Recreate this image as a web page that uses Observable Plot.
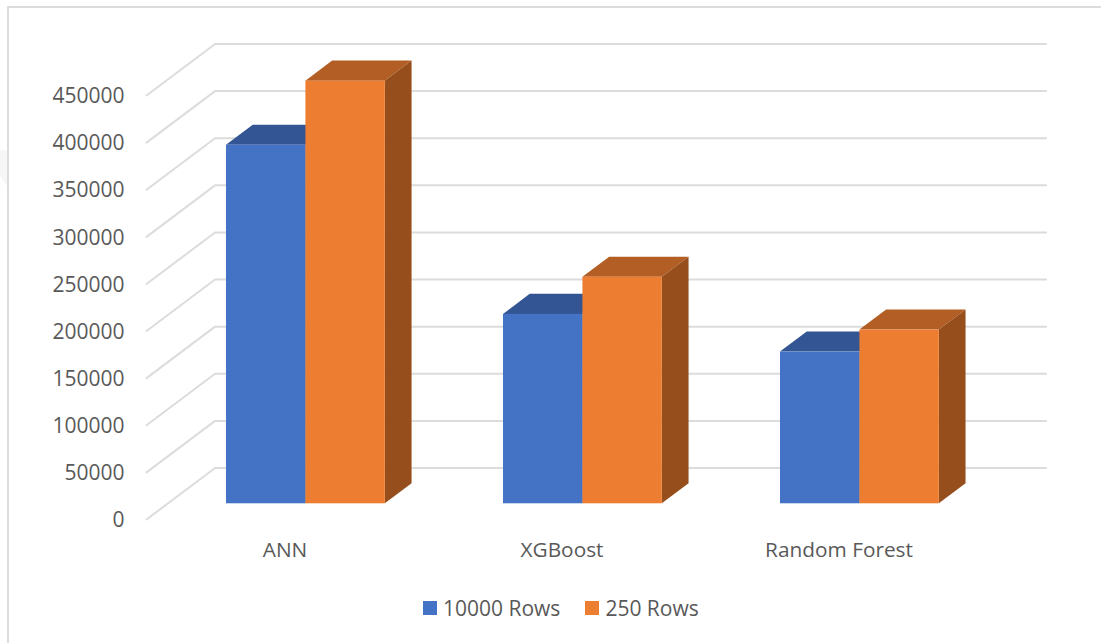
<!DOCTYPE html>
<html>
<head>
<meta charset="utf-8">
<script src="https://cdn.jsdelivr.net/npm/d3@7"></script>
<script src="https://cdn.jsdelivr.net/npm/@observablehq/plot@0.6"></script>
<style>
  html, body { margin: 0; background: #fff; }
  #page { position: relative; width: 1101px; height: 643px; overflow: hidden; font-family: "Open Sans", sans-serif; color: #595959; }
  #frame { position: absolute; left: 7px; top: 6px; right: -10px; bottom: -10px; border: 2px solid #dcdcdc; }
  #mark { position: absolute; left: 0; top: 150px; width: 7px; height: 36px; background: #f6f6f6; clip-path: polygon(0 0, 100% 0, 100% 100%, 0 70%); }
  #chart { position: relative; }
  #chart svg { background: transparent; }
  #legend { position: relative; height: 36px; display: flex; align-items: center; padding-left: 423px; font-size: 21px; }
  #legend span.sw { width: 14px; height: 14px; margin-right: 6px; }
  #legend span.lab { margin-right: 25px; }
</style>
</head>
<body>
<div id="page">
  <div id="frame"></div>
  <div id="mark"></div>
  <div id="chart"></div>
  <div id="legend"></div>
</div>
<script>
// Training rows per model, drawn as a pseudo-3D clustered column chart.
const models = ["ANN", "XGBoost", "Random Forest"];
const seriesNames = ["10000 Rows", "250 Rows"];
const rows10000 = [380500, 201000, 161000];
const rows250 = [448500, 240400, 184400];
const yTicks = [0, 50000, 100000, 150000, 200000, 250000, 300000, 350000, 400000, 450000];

const frontColors = ["#4472C4", "#ED7D31"];
const topColors = ["#335593", "#B25E25"];
const sideColors = ["#2F5290", "#964F1C"];

// Oblique projection: one unit of depth shifts a point right and up on the chart.
const depthX = 0.2475;
const depthY = 54660;
const barWidth = 0.2867;
const barDepth = 0.39;
const barStart = (1 - barDepth) / 2;

const shift = (x, y, d) => ({x: x + d * depthX, y: y + d * depthY});

const gridRows = yTicks.flatMap((v) => [
  {v, ...shift(0, v, 0)},
  {v, ...shift(0, v, 1)},
  {v, ...shift(models.length, v, 1)}
]);

const barMarks = [rows10000, rows250].flatMap((values, s) => {
  const bars = values.map((value, i) => {
    const x1 = i + 0.5 + (s - 1) * barWidth;
    const x2 = x1 + barWidth;
    return {
      id: models[i], x1, x2, value,
      fx1: shift(x1, 0, barStart).x,
      fx2: shift(x2, 0, barStart).x,
      fy1: shift(0, 0, barStart).y,
      fy2: shift(0, value, barStart).y
    };
  });
  const tops = bars.flatMap((b) => [barStart, barStart + barDepth].map((d) => ({
    id: b.id,
    y: shift(0, b.value, d).y,
    x1: shift(b.x1, 0, d).x,
    x2: shift(b.x2, 0, d).x
  })));
  const sides = bars.flatMap((b) => [barStart, barStart + barDepth].map((d) => ({
    id: b.id,
    x: shift(b.x2, 0, d).x,
    y1: shift(0, 0, d).y,
    y2: shift(0, b.value, d).y
  })));
  return [
    Plot.areaX(tops, {y: "y", x1: "x1", x2: "x2", z: "id", fill: topColors[s]}),
    Plot.areaY(sides, {x: "x", y1: "y1", y2: "y2", z: "id", fill: sideColors[s]}),
    Plot.rect(bars, {x1: "fx1", x2: "fx2", y1: "fy1", y2: "fy2", fill: frontColors[s]})
  ];
});

const chart = Plot.plot({
  width: 1101,
  height: 590,
  marginLeft: 146,
  marginRight: 124,
  marginTop: 95,
  marginBottom: 71,
  x: {domain: [0, models.length], label: null},
  y: {domain: [0, 450000], label: null},
  style: {fontFamily: '"Open Sans", sans-serif', color: "#595959"},
  marks: [
    Plot.line(gridRows, {x: "x", y: "y", z: "v", stroke: "#dcdcdc", strokeWidth: 2}),
    ...barMarks,
    Plot.axisY(yTicks, {
      tickSize: 0, tickPadding: 22, fontSize: 21, dy: 1,
      tickFormat: (d) => String(d), label: null
    }),
    Plot.axisX(models.map((_, i) => i + 0.5), {
      tickSize: 0, tickPadding: 23, fontSize: 20.8,
      tickFormat: (d) => models[Math.floor(d)], label: null
    })
  ]
});
document.getElementById("chart").append(chart);

const legend = document.getElementById("legend");
seriesNames.forEach((name, s) => {
  const sw = document.createElement("span");
  sw.className = "sw";
  sw.style.background = frontColors[s];
  const lab = document.createElement("span");
  lab.className = "lab";
  lab.textContent = name;
  legend.append(sw, lab);
});
</script>
</body>
</html>
